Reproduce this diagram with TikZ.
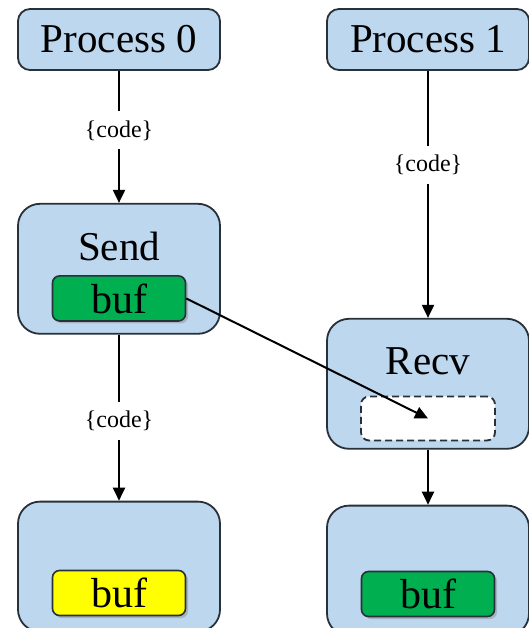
\documentclass[tikz,border=0pt]{standalone}
\usepackage{fontspec}
\setmainfont{Liberation Serif}
\usetikzlibrary{positioning, arrows.meta, shadows}
\definecolor{boxblue}{RGB}{189,215,238}
\definecolor{bufgreen}{RGB}{0,176,80}
\definecolor{bufyellow}{RGB}{255,255,0}
\definecolor{edgegray}{RGB}{40,48,58}
\tikzset{
        >={Triangle[length=13pt,width=12pt]}, % filled arrow heads
        flow/.style={->, line width=2pt}, % the arrows between the steps
        big text/.style={font=\fontsize{41}{41}\selectfont, inner sep=0pt},
    }
\tikzset{
      proc box/.style={
		draw=edgegray,
		fill=boxblue,
		line width=1.8pt,
		rounded corners=#1,
		minimum width=202pt,
	  },
      proc box/.default=22pt,
      buf box/.style={
		draw=edgegray,
		fill=#1,
		line width=1.6pt,
		rounded corners=7pt,
		minimum width=133pt,
		minimum height=45pt,
		inner sep=0pt,
		font=\fontsize{42}{42}\selectfont,
		drop shadow={shadow xshift=2.5pt, shadow yshift=-2.5pt, opacity=0.4},
	  },
  		code label/.style={
    	fill=white,
    	font=\fontsize{24}{24}\selectfont,
    	inner xsep=2pt, inner ysep=9pt,
      }
  	}

\begin{document}
\begin{tikzpicture}[x=1pt, y=1pt]
    \useasboundingbox (0,0) rectangle (529,-628);
    % the two processes
    \node [proc box=12pt, minimum height=61pt, big text] (p0) at (119,-39.5) {Process 0};
    \node [proc box=12pt, minimum height=61pt, big text] (p1) at (428,-39.5) {Process 1};
    % send and receive steps
    \node [proc box, minimum height=130pt, below=132pt of p0] (send) {};
    \node [big text, below=29pt of send.north] (sendtitle) {Send};
    \node [buf box=bufgreen, below=14pt of sendtitle] (sendbuf) {buf};
    \node [proc box, minimum height=130pt, below=247pt of p1] (recv) {};
    \node [big text, below=30pt of recv.north] (recvtitle) {Recv};
    \node [draw=edgegray, fill=white, dash pattern=on 7pt off 4pt, line width=1.8pt,
           rounded corners=8pt, minimum width=134pt, minimum height=44pt,
           below=20pt of recvtitle] (slot) {};
    % after the transfer
    \node [proc box, minimum height=130pt, below=166pt of send] (out0) {};
    \node [buf box=bufyellow, below=69pt of out0.north] (out0buf) {buf};
    \node [proc box, minimum height=130pt, below=55pt of recv] (out1) {};
    \node [buf box=bufgreen, below=66pt of out1.north] (out1buf) {buf};
    % arrows
    \draw [flow] (p0) -- node [code label, pos=0.45] (code0) {\{code\}} (send);
    \draw [flow] (p1) -- node [code label, pos=0.38] (code1) {\{code\}} (recv);
    \draw [flow] (send) -- node [code label, pos=0.52] (code2) {\{code\}} (out0);
    \draw [flow] (recv) -- (out1);
    \draw [flow] (sendbuf.east) -- (slot.center);
\end{tikzpicture}
\end{document}
